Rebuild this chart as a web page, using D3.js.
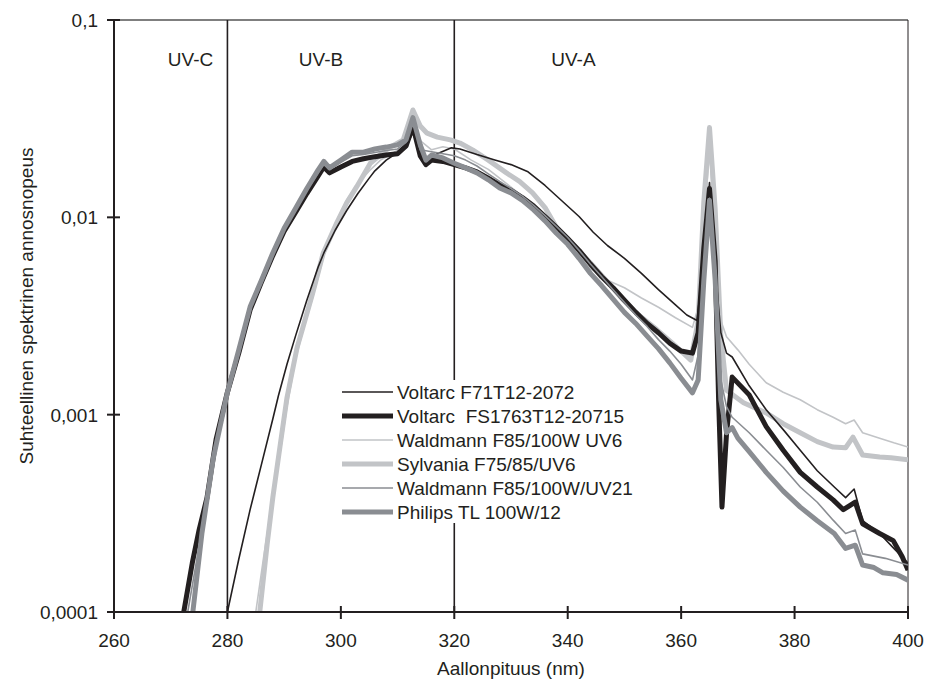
<!DOCTYPE html>
<html>
<head>
<meta charset="utf-8">
<script src="https://cdn.jsdelivr.net/npm/d3@7"></script>
<style>
  body { margin: 0; background: #fff; }
  text { font-family: "Liberation Sans", Arial, sans-serif; fill: #231f20; }
</style>
</head>
<body>
<div id="chart"></div>
<script>
// wavelength (nm) / relative spectral dose rate pairs
var voltarcF71 = [[280,1e-4],[282,1.85e-4],[284,3.3e-4],[286,5.6e-4],[288,0.00095],[289,0.00125],[290.5,0.0018],[292,0.0025],[294,0.0038],[296,0.0056],[297,0.0066],[299,0.0086],[301,0.0108],[303,0.0132],[305,0.0158],[306,0.0172],[308,0.0195],[310,0.0213],[311.5,0.0226],[312.7,0.027],[314,0.0215],[315.5,0.0195],[317,0.021],[319.5,0.0225],[321,0.0222],[324,0.0208],[327,0.0196],[330,0.0185],[333,0.017],[336,0.0145],[339,0.0121],[342,0.0101],[344.5,0.0084],[347,0.0072],[350,0.0062],[353,0.0052],[356,0.0043],[359,0.0036],[361,0.0032],[362.8,0.003],[363.8,0.0055],[365,0.015],[366,0.0055],[367,0.0026],[368,0.00205],[369,0.00196],[372,0.0014],[375,0.00106],[378,0.00084],[381,0.00066],[384,0.00052],[387,0.00043],[389,0.00038],[390.5,0.00042],[392,0.00029],[395,0.00025],[397.5,0.00021],[400,0.000177]];

var voltarcFS = [[272.3,1e-4],[273.8,0.000177],[275,0.00026],[276.4,0.00038],[278,0.00075],[280,0.0013],[282,0.00205],[284,0.0034],[286,0.0047],[288,0.0064],[290,0.0085],[292,0.0106],[294,0.0132],[296,0.0162],[297,0.018],[298,0.0168],[300,0.018],[302,0.0192],[304,0.0198],[306,0.0203],[308,0.0207],[310,0.021],[311.5,0.023],[312.7,0.029],[314,0.0205],[315,0.0185],[316,0.0195],[318,0.0192],[320,0.0185],[322,0.0178],[324,0.017],[326,0.0158],[328,0.0146],[330,0.0137],[332,0.0126],[334,0.0114],[336,0.0101],[338,0.0089],[340,0.0078],[342,0.0068],[344,0.0058],[346,0.005],[348,0.0044],[350,0.0038],[352,0.0033],[354,0.0029],[356,0.0026],[358,0.0023],[360,0.0021],[362,0.00205],[363,0.0026],[364,0.007],[365,0.014],[366,0.006],[366.6,0.0012],[367.2,0.00034],[368,0.0008],[369,0.00155],[372,0.00126],[375,0.00087],[378,0.00066],[381,0.00051],[384,0.00043],[386.8,0.00037],[388.6,0.00033],[390.7,0.00036],[392,0.00028],[395,0.00025],[397.4,0.00023],[399,0.00019],[400,0.000163]];

var waldmannUV6 = [[285,1e-4],[286.5,0.0002],[288,0.00038],[289.5,0.0007],[290.5,0.0011],[292,0.0019],[293.5,0.0028],[295,0.0039],[297,0.0064],[299,0.0092],[301,0.0122],[303,0.0148],[305,0.0172],[307,0.0195],[309,0.021],[311,0.0228],[312.7,0.032],[314,0.0245],[316,0.022],[318,0.0228],[320,0.0222],[323,0.0195],[326,0.0175],[329,0.015],[332,0.0128],[335,0.0106],[338,0.0087],[341,0.0069],[344,0.0055],[347,0.0048],[350,0.0044],[353,0.0039],[356,0.0035],[359,0.0031],[362,0.00277],[363,0.0035],[364,0.009],[365,0.022],[366,0.008],[367,0.003],[368,0.00248],[370,0.00213],[372,0.0018],[375,0.00145],[378,0.0013],[381,0.00119],[384,0.00106],[386.8,0.00097],[389,0.0009],[390.5,0.00094],[392,0.00081],[395,0.00076],[397.5,0.00072],[400,0.000685]];

var sylvania = [[285.7,1e-4],[287,0.00022],[288,0.00038],[289.3,0.0007],[290.5,0.00122],[292.3,0.0022],[293.2,0.0027],[295,0.0041],[296.9,0.0066],[299.3,0.0094],[301,0.0118],[302.8,0.0143],[305.2,0.0188],[307,0.0208],[308.7,0.0227],[311,0.0247],[312.7,0.035],[314,0.029],[315.2,0.0267],[317,0.0255],[319.3,0.0247],[321,0.0238],[323.3,0.0219],[326,0.0195],[329.2,0.0168],[331.5,0.0152],[333.8,0.0133],[336,0.0112],[338,0.0089],[341,0.0072],[344,0.00587],[347,0.0047],[349.8,0.00381],[352.5,0.0032],[355.7,0.0027],[358.5,0.0023],[361.7,0.00189],[363,0.003],[364,0.012],[365,0.0285],[366,0.011],[367,0.0025],[368,0.00133],[371,0.00115],[375,0.00102],[378,0.0009],[381,0.00081],[384,0.00073],[386.8,0.000685],[389,0.00068],[390.3,0.00077],[392,0.000625],[395,0.00061],[397,0.000605],[400,0.00059]];

var waldmannUV21 = [[273,1e-4],[275.5,0.00026],[277.5,0.00062],[280,0.0013],[282,0.0021],[284,0.0035],[286,0.0048],[288,0.0066],[290,0.0088],[292,0.011],[294,0.0137],[296,0.0168],[297,0.0185],[298,0.0175],[300,0.019],[302,0.0205],[304,0.0208],[306,0.0213],[308,0.0218],[310,0.0222],[311.5,0.024],[312.7,0.031],[314,0.022],[316,0.0215],[318,0.021],[320,0.0205],[322,0.0195],[324,0.0182],[326,0.0166],[328,0.0152],[330,0.014],[332,0.0128],[334,0.0115],[336,0.0102],[338,0.009],[340,0.0079],[342,0.0068],[344,0.0058],[346,0.005],[348,0.0043],[350,0.0037],[352,0.0032],[354,0.0028],[356,0.0024],[358,0.0021],[360,0.0018],[362,0.0015],[363,0.002],[364,0.005],[365,0.0125],[366,0.0045],[367,0.0015],[368,0.0011],[369,0.00097],[372,0.00081],[375,0.00066],[378,0.00054],[381,0.00043],[384,0.00036],[386.8,0.000292],[389,0.00025],[390.7,0.00026],[392,0.000197],[396,0.000187],[400,0.000173]];

var philips = [[273.9,1e-4],[275.5,0.00025],[277.5,0.0006],[280,0.0013],[282,0.00213],[284,0.00352],[286,0.0048],[288,0.0066],[290,0.0088],[292,0.0111],[294,0.014],[296,0.0174],[297,0.0192],[298,0.0178],[300,0.0195],[302,0.0214],[304,0.0214],[306,0.0222],[308,0.0227],[310,0.0233],[311.5,0.0247],[312.7,0.032],[314,0.0233],[315,0.0195],[316,0.0207],[318,0.02],[320,0.0188],[322,0.0178],[324,0.0168],[326,0.0155],[328,0.0141],[330,0.0133],[332,0.0122],[334,0.0109],[336,0.0096],[338,0.0083],[340,0.0073],[342,0.0062],[344,0.0052],[346,0.0045],[348,0.00385],[350,0.0033],[352,0.0029],[354,0.0025],[356,0.00216],[358,0.00183],[360,0.00153],[362,0.00129],[363,0.0015],[364,0.0048],[365,0.0122],[366,0.0048],[367,0.00119],[368,0.00081],[369,0.00086],[370,0.00076],[372,0.00065],[375,0.00051],[378,0.00041],[381,0.00034],[384,0.00029],[387,0.00025],[389,0.00021],[390.7,0.000218],[392,0.000173],[394,0.000168],[395.6,0.000158],[398,0.000155],[400,0.000145]];

var seriesNames = ["Voltarc F71T12-2072", "Voltarc  FS1763T12-20715", "Waldmann F85/100W UV6",
                   "Sylvania F75/85/UV6", "Waldmann F85/100W/UV21", "Philips TL 100W/12"];
var xTicks = [260, 280, 300, 320, 340, 360, 380, 400];
var yTicks = [0.0001, 0.001, 0.01, 0.1];
var yTickLabels = ["0,0001", "0,001", "0,01", "0,1"];
var bandEdges = [280, 320];
var bandNames = ["UV-C", "UV-B", "UV-A"];
var bandLabelAt = [273.5, 296.5, 341];

var width = 929, height = 684;
var margin = { top: 20, right: 21, bottom: 72, left: 114 };

var series = [
  { name: seriesNames[0], data: voltarcF71,   color: "#231f20", w: 1.6 },
  { name: seriesNames[1], data: voltarcFS,    color: "#231f20", w: 5 },
  { name: seriesNames[2], data: waldmannUV6,  color: "#c2c4c7", w: 1.6 },
  { name: seriesNames[3], data: sylvania,     color: "#c2c4c7", w: 5 },
  { name: seriesNames[4], data: waldmannUV21, color: "#8a8d92", w: 1.6 },
  { name: seriesNames[5], data: philips,      color: "#8a8d92", w: 5 }
];
// draw order: light ones first so darker thick lines sit on top
var drawOrder = [3, 2, 0, 1, 4, 5];

var svg = d3.select("#chart").append("svg")
  .attr("width", width).attr("height", height);

var x = d3.scaleLinear().domain([260, 400]).range([margin.left, width - margin.right]);
var y = d3.scaleLog().domain([0.0001, 0.1]).range([height - margin.bottom, margin.top]);

var top_ = y.range()[1], bottom = y.range()[0];

// frame (top + right)
svg.append("line").attr("x1", x(260)).attr("x2", x(400)).attr("y1", top_).attr("y2", top_)
  .attr("stroke", "#555").attr("stroke-width", 1.5);
svg.append("line").attr("x1", x(400)).attr("x2", x(400)).attr("y1", top_).attr("y2", bottom)
  .attr("stroke", "#231f20").attr("stroke-width", 1);

// UV band separators
svg.selectAll(".band").data(bandEdges).join("line")
  .attr("x1", d => x(d)).attr("x2", d => x(d))
  .attr("y1", top_).attr("y2", bottom)
  .attr("stroke", "#231f20").attr("stroke-width", 1.6);

svg.selectAll(".bandlabel").data(bandNames).join("text")
  .attr("x", (d, i) => x(bandLabelAt[i])).attr("y", 66)
  .attr("text-anchor", "middle").attr("font-size", 19)
  .text(d => d);

var line = d3.line().x(d => x(d[0])).y(d => y(d[1]));

svg.append("clipPath").attr("id", "clip").append("rect")
  .attr("x", x(260)).attr("y", top_).attr("width", x(400) - x(260)).attr("height", bottom - top_);

svg.append("g").attr("clip-path", "url(#clip)")
  .selectAll("path").data(drawOrder.map(i => series[i])).join("path")
  .attr("d", d => line(d.data))
  .attr("fill", "none")
  .attr("stroke", d => d.color)
  .attr("stroke-width", d => d.w)
  .attr("stroke-linejoin", "round");

// legend
var lg = svg.append("g");
lg.append("rect").attr("x", 338).attr("y", 380).attr("width", 300).attr("height", 143).attr("fill", "#fff");
var rows = lg.selectAll("g").data(series).join("g")
  .attr("transform", (d, i) => `translate(342, ${392 + i * 24})`);
rows.append("line").attr("x1", 0).attr("x2", 51)
  .attr("stroke", d => d.color).attr("stroke-width", d => d.w);
rows.append("text").attr("x", 55).attr("y", 7).attr("font-size", 19)
  .style("white-space", "pre").text(d => d.name);

// axes
var xAxis = svg.append("g");
xAxis.append("line").attr("x1", x(260)).attr("x2", x(400)).attr("y1", bottom).attr("y2", bottom)
  .attr("stroke", "#231f20").attr("stroke-width", 2);
xAxis.selectAll(".tick").data(xTicks).join("line")
  .attr("x1", d => x(d)).attr("x2", d => x(d)).attr("y1", bottom - 6).attr("y2", bottom + 7)
  .attr("stroke", "#231f20").attr("stroke-width", 2);
xAxis.selectAll("text").data(xTicks).join("text")
  .attr("x", d => x(d)).attr("y", 647).attr("text-anchor", "middle").attr("font-size", 19)
  .text(d => d);

var yAxis = svg.append("g");
yAxis.append("line").attr("x1", x(260)).attr("x2", x(260)).attr("y1", top_).attr("y2", bottom)
  .attr("stroke", "#231f20").attr("stroke-width", 2);
yAxis.selectAll(".tick").data(yTicks).join("line")
  .attr("x1", x(260) - 7).attr("x2", x(260) + 6).attr("y1", d => y(d)).attr("y2", d => y(d))
  .attr("stroke", "#231f20").attr("stroke-width", 2);
yAxis.selectAll("text").data(yTicks).join("text")
  .attr("x", 98).attr("y", d => y(d) + 7).attr("text-anchor", "end").attr("font-size", 19)
  .text((d, i) => yTickLabels[i]);

svg.append("text").attr("x", x(330)).attr("y", 675).attr("text-anchor", "middle").attr("font-size", 19)
  .text("Aallonpituus (nm)");
svg.append("text").attr("transform", "translate(33,306) rotate(-90)")
  .attr("text-anchor", "middle").attr("font-size", 19)
  .text("Suhteellinen spektrinen annosnopeus");
</script>
</body>
</html>
